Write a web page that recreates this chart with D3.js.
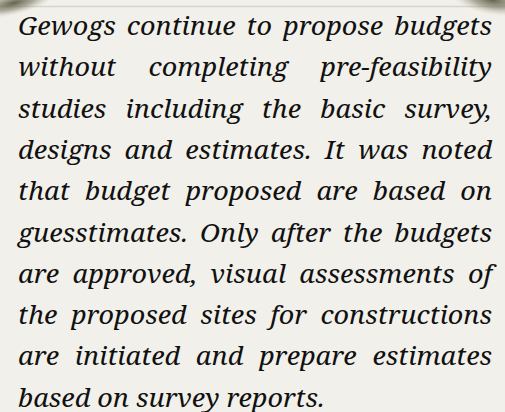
<!DOCTYPE html>
<html>
<head>
<meta charset="utf-8">
<script src="https://cdn.jsdelivr.net/npm/d3@7"></script>
<style>
  html, body { margin: 0; padding: 0; background: #f2f0ea; }
  svg { display: block; }
</style>
</head>
<body>
<div id="chart"></div>
<script>
const lines = [
  'Gewogs continue to propose budgets',
  'without completing pre-feasibility',
  'studies including the basic survey,',
  'designs and estimates. It was noted',
  'that budget proposed are based on',
  'guesstimates.  Only after the budgets',
  'are approved, visual assessments of',
  'the proposed sites for constructions',
  'are initiated and prepare estimates',
  'based on survey reports.'
];
const justified = [true, true, true, true, true, true, true, true, true, false];

const width = 505;
const height = 412;
const margins = { left: 18, right: 13, top: 35 };
const lineHeight = 41.3;
const lastLineWidth = 307;
const xHeight = 14.3;
const fontFamily = '"Noto Serif"';

const svg = d3.select('#chart').append('svg')
  .attr('width', width)
  .attr('height', height);

const defs = svg.append('defs');

const blotch = defs.append('radialGradient').attr('id', 'blotch');
blotch.append('stop').attr('offset', '0%').attr('stop-color', '#5c5b47').attr('stop-opacity', 0.95);
blotch.append('stop').attr('offset', '50%').attr('stop-color', '#807e68').attr('stop-opacity', 0.6);
blotch.append('stop').attr('offset', '100%').attr('stop-color', '#c9c7b8').attr('stop-opacity', 0);

svg.append('rect')
  .attr('width', width)
  .attr('height', height)
  .style('fill', '#f2f0ea');

// thin rule near the top
svg.append('line')
  .attr('x1', 0).attr('x2', width)
  .attr('y1', 6.5).attr('y2', 6.5)
  .style('stroke', '#d6d4cd')
  .style('stroke-width', 1.5);

// dark corner smudges
svg.append('ellipse')
  .attr('cx', 14).attr('cy', 3).attr('rx', 44).attr('ry', 12)
  .attr('transform', 'rotate(-14 14 3)')
  .style('fill', 'url(#blotch)');
svg.append('ellipse')
  .attr('cx', 492).attr('cy', 0).attr('rx', 42).attr('ry', 15)
  .attr('transform', 'rotate(10 492 0)')
  .style('fill', 'url(#blotch)');

const textGroup = svg.append('g')
  .style('font-family', `${fontFamily}, serif`)
  .style('font-style', 'italic')
  .style('fill', '#111');

// fit the font size on the last (unjustified) line
const ctx = document.createElement('canvas').getContext('2d');
ctx.font = `italic 300px ${fontFamily}`;
const fontSize = 300 * lastLineWidth / ctx.measureText(lines[lines.length - 1]).width;
const scaleY = xHeight / (ctx.measureText('x').actualBoundingBoxAscent * fontSize / 300);
ctx.font = `italic ${fontSize}px ${fontFamily}`;

textGroup.style('font-size', `${fontSize}px`);

const textWidth = width - margins.left - margins.right;

lines.forEach((line, i) => {
  const words = line.split(/\s+/);
  const y = margins.top + i * lineHeight;
  const row = textGroup.append('g')
    .attr('class', 'row')
    .attr('transform', `translate(0,${y}) scale(1,${scaleY})`);
  const widths = words.map((w) => ctx.measureText(w).width);
  const total = d3.sum(widths);
  const spaceW = ctx.measureText(' ').width;
  const gap = justified[i] && words.length > 1
    ? (textWidth - total) / (words.length - 1)
    : spaceW;
  let x = margins.left;
  words.forEach((w, j) => {
    row.append('text')
      .attr('x', x)
      .attr('y', 0)
      .text(w);
    x += widths[j] + gap;
  });
});
</script>
</body>
</html>
